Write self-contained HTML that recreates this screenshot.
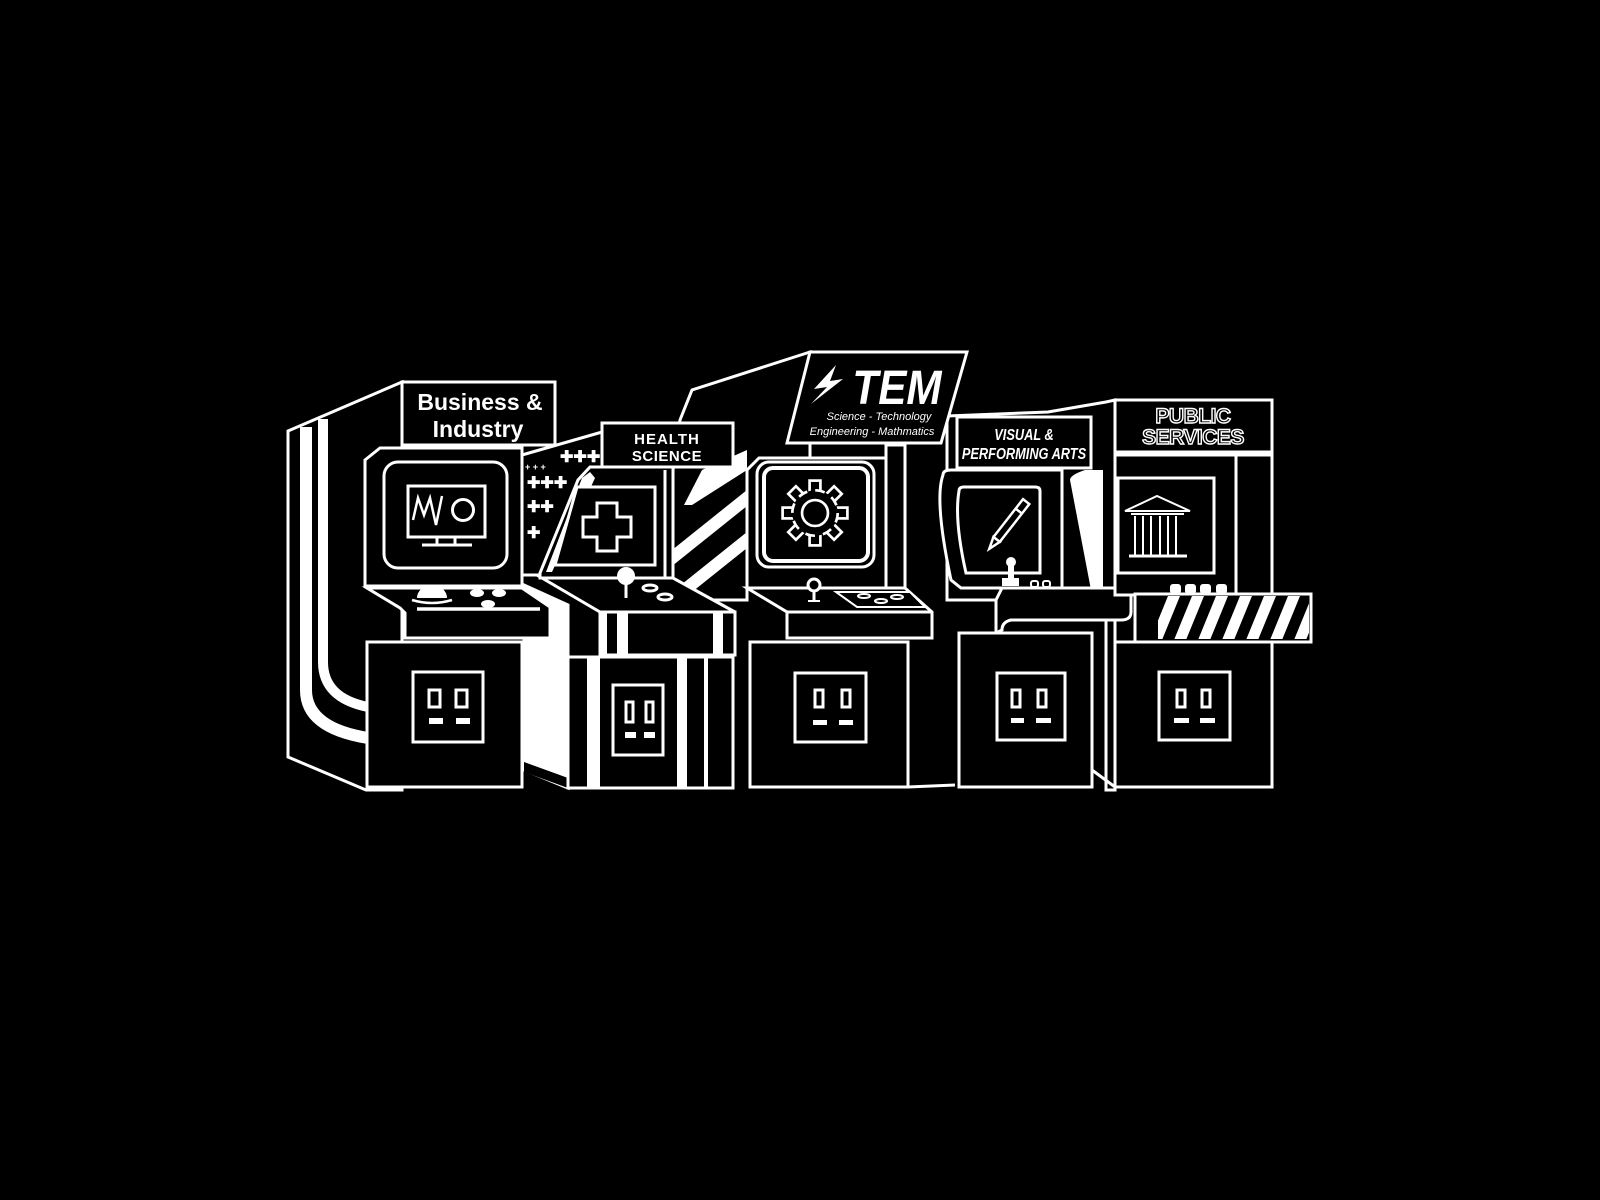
<!DOCTYPE html>
<html><head><meta charset="utf-8"><style>
html,body{margin:0;padding:0;background:#000;}
svg{display:block;}
text{font-family:"Liberation Sans",sans-serif;}
</style></head><body>
<svg width="1600" height="1200" viewBox="0 0 1600 1200" xmlns="http://www.w3.org/2000/svg">
<defs>
<clipPath id="stripeclip"><polygon points="673,470 747,450 747,600 673,600"/></clipPath>
<clipPath id="psclip"><rect x="1158" y="596" width="151" height="43"/></clipPath>
</defs>
<rect width="1600" height="1200" fill="#000"/>
<g stroke="#fff" stroke-width="3" fill="#000" stroke-linejoin="miter">

<!-- STEM back panel -->
<polygon points="680,420 692,390 810,352 810,470 747,470 747,600 673,600 673,470"/>
<g clip-path="url(#stripeclip)" stroke="none" fill="#fff">
  <polygon points="702,470 747,450 747,470 692,505 684,505"/>
  <polygon points="672,550 747,490 747,506 672,566"/>
  <polygon points="672,592 747,532 747,548 672,608"/>
</g>

<!-- Plus panel behind health -->
<polygon points="522,455 602,432 602,470 578,482 540,575 522,575"/>
<g fill="#fff" stroke="none" font-weight="bold">
  <text x="525" y="470" font-size="9">+ + +</text>
  <text x="560" y="462" font-size="16">✚✚✚</text>
  <text x="527" y="488" font-size="16">✚✚✚</text>
  <text x="527" y="512" font-size="16">✚✚</text>
  <text x="527" y="538" font-size="16">✚</text>
</g>

<!-- VPA back -->
<polygon points="947,416 1048,412 1106,402 1115,400 1115,790 1106,790 1106,600 947,600"/>
<path d="M1070,480 Q1070,475 1085,470 L1103,470 L1103,590 L1091,590 Z" fill="#fff" stroke="none"/>

<!-- ===== HEALTH ===== -->
<polygon points="524,585 568,605 568,788 524,770" fill="#fff"/>
<polygon points="524,762 568,778 568,788 524,772" fill="#000" stroke="none"/>
<polygon points="590,467 673,467 673,578 540,578 540,573 578,480"/>
<polygon points="582,478 590,472 595,478 552,572 546,572" fill="#fff" stroke="none"/>
<line x1="665" y1="470" x2="665" y2="578"/>
<polygon points="577,487 655,487 655,565 555,565"/>
<path d="M597,503 h20 v14 h14 v20 h-14 v14 h-20 v-14 h-14 v-20 h14 z"/>
<rect x="602" y="423" width="131" height="44"/>
<text x="667" y="444" text-anchor="middle" fill="#fff" stroke="none" font-weight="bold" font-size="15" letter-spacing="1">HEALTH</text>
<text x="667" y="461" text-anchor="middle" fill="#fff" stroke="none" font-weight="bold" font-size="15" letter-spacing="0.5">SCIENCE</text>
<polygon points="542,578 673,578 735,612 600,612"/>
<rect x="600" y="612" width="135" height="43"/>
<g fill="#fff" stroke="none">
  <rect x="600" y="612" width="7" height="43"/><rect x="617" y="612" width="11" height="43"/><rect x="713" y="612" width="10" height="43"/>
</g>
<line x1="626" y1="578" x2="626" y2="598"/>
<circle cx="626" cy="576" r="9" fill="#fff" stroke="none"/>
<ellipse cx="650" cy="588" rx="7" ry="3"/><ellipse cx="665" cy="597" rx="7" ry="3"/>
<rect x="568" y="657" width="165" height="131"/>
<g fill="#fff" stroke="none">
  <rect x="587" y="657" width="13" height="131"/><rect x="677" y="657" width="10" height="131"/><rect x="704" y="657" width="4" height="131"/>
</g>
<rect x="613" y="685" width="50" height="70"/>
<g fill="#000"><rect x="626" y="702" width="7" height="20"/><rect x="646" y="702" width="7" height="20"/></g>
<g fill="#fff" stroke="none"><rect x="625" y="732" width="11" height="6"/><rect x="644" y="732" width="11" height="6"/></g>

<!-- ===== BUSINESS ===== -->
<polygon points="288,431 402,382 402,790 366,790 288,757"/>
<path d="M306,427 L306,690 Q306,728 368,738" fill="none" stroke-width="12"/>
<path d="M323,419 L323,662 Q323,698 368,707" fill="none" stroke-width="10"/>
<rect x="402" y="382" width="153" height="63"/>
<text x="480" y="410" text-anchor="middle" fill="#fff" stroke="none" font-weight="bold" font-size="23">Business &amp;</text>
<text x="478" y="437" text-anchor="middle" fill="#fff" stroke="none" font-weight="bold" font-size="23">Industry</text>
<polygon points="365,460 380,448 522,448 522,586 365,586"/>
<rect x="384" y="462" width="123" height="106" rx="14"/>
<rect x="408" y="486" width="77" height="51"/>
<polyline points="413,520 418,498 424,515 430,498 436,525 442,496" fill="none" stroke-width="2.5"/>
<circle cx="463" cy="510" r="10.5"/>
<line x1="437" y1="537" x2="437" y2="545"/><line x1="455" y1="537" x2="455" y2="545"/>
<line x1="422" y1="545" x2="472" y2="545"/>
<polygon points="367,588 522,588 550,607 550,638 405,638 405,613 400,608"/>
<path d="M417,598 A15,13 0 0 1 447,598 Z" fill="#fff" stroke="none"/>
<path d="M412,600 Q432,606 452,600" fill="none" stroke-width="2.5"/>
<g fill="#fff" stroke="none"><ellipse cx="477" cy="593" rx="7" ry="4"/><ellipse cx="499" cy="593" rx="7" ry="4"/><ellipse cx="488" cy="604" rx="7" ry="4"/></g>
<line x1="417" y1="609" x2="540" y2="609" stroke-width="3.5"/>
<rect x="367" y="642" width="155" height="145"/>
<rect x="413" y="672" width="70" height="70"/>
<g fill="#000"><rect x="429" y="690" width="11" height="17"/><rect x="456" y="690" width="11" height="17"/></g>
<g fill="#fff" stroke="none"><rect x="429" y="718" width="14" height="6"/><rect x="456" y="718" width="14" height="6"/></g>

<!-- ===== STEM ===== -->
<line x1="908" y1="787" x2="955" y2="785"/>
<polygon points="747,470 759,458 886,458 886,445 905,445 905,588 747,588"/>
<line x1="886" y1="458" x2="886" y2="588"/>
<polygon points="810,352 967,352 941,443 787,443"/>
<path d="M836,365 L814,389 L827,387 L811,404 L843,379 L830,381 Z" fill="#fff" stroke="none"/>
<text x="897" y="404" text-anchor="middle" fill="#fff" stroke="none" font-weight="bold" font-style="italic" font-size="48" transform="translate(897 0) scale(0.88 1) translate(-897 0)">TEM</text>
<text x="879" y="420" text-anchor="middle" fill="#fff" stroke="none" font-style="italic" font-size="11">Science - Technology</text>
<text x="872" y="435" text-anchor="middle" fill="#fff" stroke="none" font-style="italic" font-size="11">Engineering - Mathmatics</text>
<rect x="757" y="462" width="117" height="105" rx="12"/>
<rect x="764" y="468" width="104" height="93" rx="9" stroke-width="4"/>
<g transform="translate(815 513) scale(1.08)">
  <g stroke-width="2.5">
    <rect x="-5" y="-30" width="10" height="12"/>
    <rect x="-5" y="-30" width="10" height="12" transform="rotate(45)"/>
    <rect x="-5" y="-30" width="10" height="12" transform="rotate(90)"/>
    <rect x="-5" y="-30" width="10" height="12" transform="rotate(135)"/>
    <rect x="-5" y="-30" width="10" height="12" transform="rotate(180)"/>
    <rect x="-5" y="-30" width="10" height="12" transform="rotate(225)"/>
    <rect x="-5" y="-30" width="10" height="12" transform="rotate(270)"/>
    <rect x="-5" y="-30" width="10" height="12" transform="rotate(315)"/>
  </g>
  <circle r="21" stroke="none"/>
  <circle r="21" fill="none" stroke-width="2.5" stroke-dasharray="9 7.5"/>
  <circle r="12" stroke-width="2.5"/>
</g>
<polygon points="747,588 905,588 932,612 932,638 787,638 787,612"/>
<line x1="787" y1="612" x2="932" y2="612"/>
<circle cx="814" cy="585" r="6"/>
<line x1="814" y1="591" x2="814" y2="601"/><line x1="808" y1="601" x2="820" y2="601" stroke-width="2"/>
<polygon points="836,592 910,592 925,607 857,607" stroke-width="2"/>
<g stroke-width="2"><ellipse cx="864" cy="596" rx="6" ry="2"/><ellipse cx="881" cy="601" rx="6" ry="2"/><ellipse cx="897" cy="597" rx="6" ry="2"/></g>
<rect x="750" y="642" width="158" height="145"/>
<rect x="795" y="673" width="71" height="69"/>
<g fill="#000"><rect x="815" y="690" width="8" height="17"/><rect x="842" y="690" width="8" height="17"/></g>
<g fill="#fff" stroke="none"><rect x="813" y="720" width="14" height="5"/><rect x="839" y="720" width="14" height="5"/></g>

<!-- ===== VPA ===== -->
<rect x="957" y="417" width="134" height="51"/>
<text x="1024" y="440" text-anchor="middle" fill="#fff" stroke="none" font-weight="bold" font-style="italic" font-size="16" transform="translate(1024 0) scale(0.8 1) translate(-1024 0)">VISUAL &amp;</text>
<text x="1024" y="459" text-anchor="middle" fill="#fff" stroke="none" font-weight="bold" font-style="italic" font-size="16" transform="translate(1024 0) scale(0.8 1) translate(-1024 0)">PERFORMING ARTS</text>
<path d="M943,475 Q943,470 951,470 L1062,470 L1062,588 L961,588 L951,580 Q934,500 943,475 Z"/>
<line x1="1062" y1="470" x2="1062" y2="588"/>
<path d="M959,491 Q959,487 964,487 L1035,487 Q1040,487 1040,491 L1040,573 L966,573 Q954,520 959,491 Z"/>
<g transform="translate(1004 530) rotate(-52)" stroke-width="2.5">
  <rect x="-12" y="-4" width="48" height="8"/>
  <line x1="24" y1="-4" x2="24" y2="4"/>
  <polygon points="-12,-4 -24,0 -12,4"/>
</g>
<circle cx="1011" cy="562" r="5" fill="#fff" stroke="none"/>
<rect x="1008" y="566" width="6" height="14" fill="#fff" stroke="none"/>
<rect x="1002" y="578" width="17" height="8" fill="#fff" stroke="none"/>
<g stroke-width="2"><rect x="1031" y="581" width="7" height="6" rx="2"/><rect x="1043" y="581" width="7" height="6" rx="2"/></g>
<path d="M1002,588 L1131,588 L1131,612 Q1131,620 1121,620 L1011,620 Q1002,622 1002,630 L996,633 L996,600 Z"/>
<rect x="959" y="633" width="133" height="154"/>
<rect x="997" y="673" width="68" height="67"/>
<g fill="#000"><rect x="1012" y="690" width="8" height="17"/><rect x="1038" y="690" width="8" height="17"/></g>
<g fill="#fff" stroke="none"><rect x="1011" y="718" width="13" height="5"/><rect x="1036" y="718" width="15" height="5"/></g>

<!-- ===== PUBLIC SERVICES ===== -->
<rect x="1115" y="400" width="157" height="52"/>
<text x="1193" y="423" text-anchor="middle" fill="#000" stroke="#fff" stroke-width="1.4" font-family="Liberation Mono" font-weight="bold" font-size="21" letter-spacing="-0.5">PUBLIC</text>
<text x="1193" y="444" text-anchor="middle" fill="#000" stroke="#fff" stroke-width="1.4" font-family="Liberation Mono" font-weight="bold" font-size="21" letter-spacing="-0.5">SERVICES</text>
<rect x="1115" y="455" width="157" height="140"/>
<line x1="1236" y1="455" x2="1236" y2="595"/>
<rect x="1118" y="478" width="96" height="95"/>
<g stroke-width="2">
  <polygon points="1125,511 1157,496 1190,511"/>
  <line x1="1131" y1="514" x2="1184" y2="514"/>
  <line x1="1135" y1="516" x2="1135" y2="555"/><line x1="1143" y1="516" x2="1143" y2="555"/><line x1="1151" y1="516" x2="1151" y2="555"/><line x1="1160" y1="516" x2="1160" y2="555"/><line x1="1168" y1="516" x2="1168" y2="555"/><line x1="1176" y1="516" x2="1176" y2="555"/>
  <line x1="1129" y1="556" x2="1187" y2="556" stroke-width="3"/>
</g>
<g fill="#fff" stroke="none"><rect x="1170" y="584" width="11" height="10" rx="3"/><rect x="1185" y="584" width="11" height="10" rx="3"/><rect x="1200" y="584" width="11" height="10" rx="3"/><rect x="1216" y="584" width="11" height="10" rx="3"/></g>
<rect x="1135" y="594" width="176" height="48"/>
<g clip-path="url(#psclip)" fill="#fff" stroke="none">
  <polygon points="1150,640 1162,640 1180,596 1168,596"/>
  <polygon points="1174,640 1186,640 1204,596 1192,596"/>
  <polygon points="1198,640 1210,640 1228,596 1216,596"/>
  <polygon points="1222,640 1234,640 1252,596 1240,596"/>
  <polygon points="1246,640 1258,640 1276,596 1264,596"/>
  <polygon points="1270,640 1282,640 1300,596 1288,596"/>
  <polygon points="1294,640 1306,640 1324,596 1312,596"/>
</g>
<line x1="1092" y1="770" x2="1115" y2="787"/>
<rect x="1115" y="642" width="157" height="145"/>
<rect x="1159" y="672" width="71" height="68"/>
<g fill="#000"><rect x="1177" y="690" width="8" height="17"/><rect x="1202" y="690" width="8" height="17"/></g>
<g fill="#fff" stroke="none"><rect x="1174" y="718" width="15" height="5"/><rect x="1200" y="718" width="15" height="5"/></g>
</g>
</svg>
</body></html>
